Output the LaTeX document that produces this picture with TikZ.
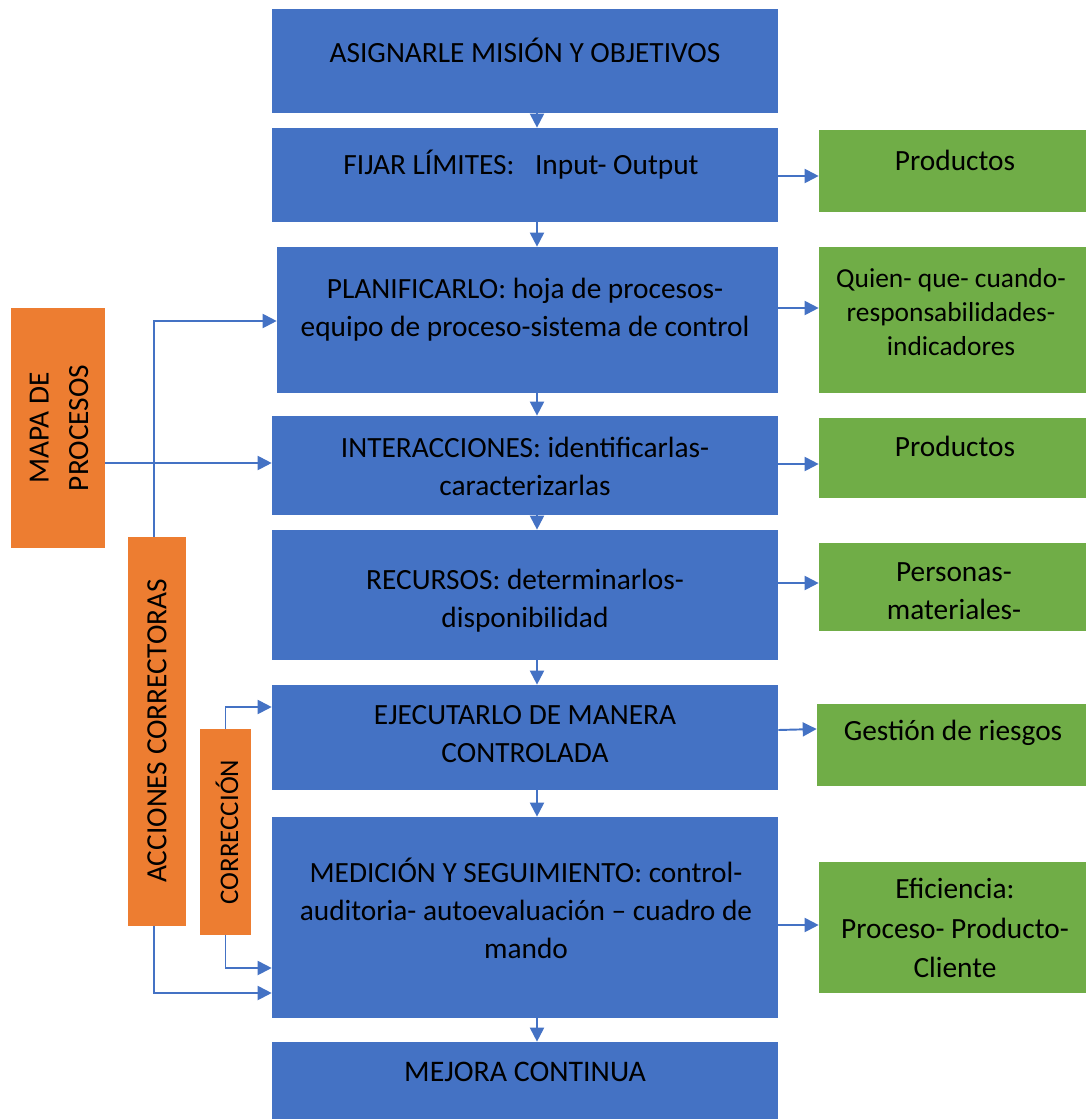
\documentclass[tikz,border=0pt]{standalone}
\usepackage{fontspec}
\setmainfont{Carlito}
\usetikzlibrary{arrows.meta}
\definecolor{procblue}{HTML}{4472C4}
\definecolor{outgreen}{HTML}{70AD47}
\definecolor{sideorange}{HTML}{ED7D31}
\begin{document}
\begin{tikzpicture}[x=0.02cm,y=-0.02cm,
  proc/.style={rectangle,fill=procblue,inner sep=0,minimum width=10.12cm},
  result/.style={rectangle,fill=outgreen,inner sep=0,minimum width=5.34cm},
  side/.style={rectangle,fill=sideorange,inner sep=0},
  txt/.style={align=center,inner sep=0,font=\fontsize{16.7}{21.6}\selectfont},
  smalltxt/.style={txt,font=\fontsize{15.6}{21.6}\selectfont},
  flow/.style={procblue,line width=1.1pt,-{Triangle[length=0.28cm,width=0.28cm]}}]
  \useasboundingbox (0,0) rectangle (1086,1119);
  \coordinate (mid) at (537,0);

  % process chain
  \node[proc,minimum height=2.08cm] (b1) at (525,61) {};
  \node[proc,minimum height=1.88cm] (b2) at (525,175) {};
  \node[proc,minimum height=2.92cm,minimum width=10.02cm] (b3) at (527.5,320) {};
  \node[proc,minimum height=1.98cm] (b4) at (525,465.5) {};
  \node[proc,minimum height=2.6cm] (b5) at (525,595) {};
  \node[proc,minimum height=2.1cm] (b6) at (525,737.5) {};
  \node[proc,minimum height=4.02cm] (b7) at (525,917.5) {};
  \node[proc,minimum height=1.54cm] (b8) at (525,1080.5) {};

  \node[txt] (t1) at (525,50) {ASIGNARLE MISIÓN Y OBJETIVOS};
  \node[txt] (t2) at (521,165) {FIJAR LÍMITES:\hspace{0.7em}Input- Output};
  \node[txt] (t3) at (525,310) {PLANIFICARLO: hoja de procesos-\\equipo de proceso-sistema de control};
  \node[txt] (t4) at (525,466) {INTERACCIONES: identificarlas-\\caracterizarlas};
  \node[txt] (t5) at (525,601) {RECURSOS: determinarlos-\\disponibilidad};
  \node[txt] (t6) at (525,734) {EJECUTARLO DE MANERA\\CONTROLADA};
  \node[txt] (t7) at (526,908) {MEDICIÓN Y SEGUIMIENTO: control-\\auditoria- autoevaluación – cuadro de\\mando};
  \node[txt,font=\fontsize{17}{21.6}\selectfont] (t8) at (525,1072) {MEJORA CONTINUA};

  % outputs
  \node[result,minimum height=1.64cm] (g1) at (952.5,171) {};
  \node[result,minimum height=2.92cm] (g2) at (952.5,320) {};
  \node[result,minimum height=1.6cm] (g3) at (952.5,458) {};
  \node[result,minimum height=1.76cm] (g4) at (952.5,587) {};
  \node[result,minimum height=1.64cm,minimum width=5.38cm] (g5) at (951.5,745) {};
  \node[result,minimum height=2.62cm] (g6) at (952.5,927.5) {};

  \node[txt] (u1) at (955,160) {Productos};
  \node[smalltxt,font=\fontsize{15.6}{19.5}\selectfont] (u2) at (951,312) {Quien- que- cuando-\\responsabilidades-\\indicadores};
  \node[txt] (u3) at (955,446) {Productos};
  \node[txt] (u4) at (954,591) {Personas-\\materiales-};
  \node[txt] (u5) at (953,733) {Gestión de riesgos};
  \node[txt,font=\fontsize{16.7}{22.6}\selectfont] (u6) at (955,928) {Eficiencia:\\Proceso- Producto-\\Cliente};

  % left side
  \node[side,minimum width=1.88cm,minimum height=4.8cm] (o1) at (58,428) {};
  \node[side,minimum width=1.16cm,minimum height=7.78cm] (o2) at (157,731.5) {};
  \node[side,minimum width=1.02cm,minimum height=4.12cm] (o3) at (225.5,832) {};
  \node[txt,rotate=90,font=\fontsize{16.7}{22.5}\selectfont] (v1) at (59,428) {MAPA DE\\PROCESOS};
  \node[txt,rotate=90] (v2) at (157,731) {ACCIONES CORRECTORAS};
  \node[smalltxt,rotate=90,font=\fontsize{15.3}{21.6}\selectfont] (v3) at (227,832) {CORRECCIÓN};

  \foreach \a/\b in {b1/b2,b2/b3,b3/b4,b4/b5,b5/b6,b6/b7,b7/b8}
    \draw[flow] (\a.south -| mid) -- (\b.north -| mid);

  \draw[flow] (b2.east |- 0,176) -- (g1.west |- 0,176);
  \draw[flow] (b3.east |- 0,308) -- (g2.west |- 0,308);
  \draw[flow] (b4.east |- 0,464) -- (g3.west |- 0,464);
  \draw[flow] (b5.east |- 0,583) -- (g4.west |- 0,583);
  \draw[flow] (b6.east |- 0,730) -- (g5.west |- 0,729);
  \draw[flow] (b7.east |- 0,925) -- (g6.west |- 0,925);

  \draw[flow] (o1.east |- 0,463) -- (b4.west |- 0,463);
  \draw[flow] (o2.north -| 154,0) |- (b3.west |- 0,321);
  \draw[flow] (o2.south -| 154,0) |- (b7.west |- 0,993);
  \draw[flow] (o3.north) |- (b6.west |- 0,707);
  \draw[flow] (o3.south) |- (b7.west |- 0,968);
\end{tikzpicture}
\end{document}
